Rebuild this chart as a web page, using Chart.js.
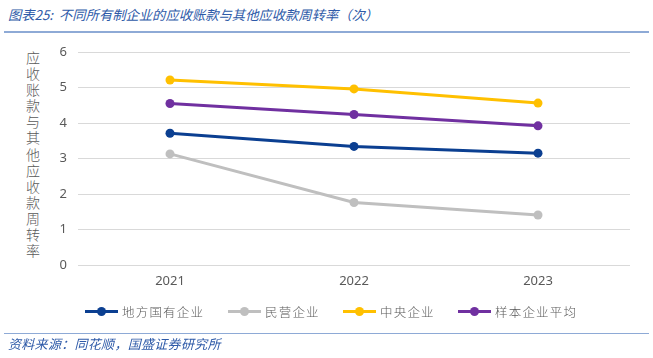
<!DOCTYPE html>
<html><head><meta charset="utf-8">
<script src="https://cdn.jsdelivr.net/npm/chart.js@4"></script>
<style>
html,body{margin:0;padding:0;background:#fff;width:653px;height:358px;overflow:hidden;position:relative;font-family:"Noto Sans CJK SC","Noto Sans",sans-serif;}
#title{position:absolute;left:8px;top:5px;font-size:13.3px;color:#2E5AA8;font-style:italic;white-space:nowrap;}
#tline{position:absolute;left:4px;top:31px;width:645px;height:2px;background:#8EAAD6;}
#bline{position:absolute;left:4px;top:333px;width:645px;height:1px;background:#8EAAD6;}
#src{position:absolute;left:8px;top:334px;font-size:13px;color:#2E5AA8;font-style:italic;white-space:nowrap;letter-spacing:0.3px;}
#ytitle{position:absolute;left:25px;top:49px;width:16px;font-size:14px;line-height:16.1px;color:#595959;font-weight:300;word-break:break-all;text-align:center;}
#c{position:absolute;left:0;top:0;}
.lg{position:absolute;top:302px;height:18px;display:flex;align-items:center;white-space:nowrap;}
.ic{position:relative;width:33px;height:18px;margin-right:4px;}
.ic .ln{position:absolute;left:0;top:7.5px;width:33px;height:3px;}
.ic .dt{position:absolute;left:12px;top:4.5px;width:9px;height:9px;border-radius:50%;}
.tx{font-size:12.5px;letter-spacing:1.2px;color:#595959;font-weight:300;}
</style></head><body>
<div id="title">图表25:&nbsp; 不同所有制企业的应收账款与其他应收款周转率（次）</div>
<div id="tline"></div>
<div id="ytitle">应收账款与其他应收款周转率</div>
<canvas id="c" width="653" height="358"></canvas>
<div id="legend"></div>
<div id="bline"></div>
<div id="src">资料来源：同花顺，国盛证券研究所</div>
<script>
const categories = ["2021","2022","2023"];
const seriesNames = ["地方国有企业","民营企业","中央企业","样本企业平均"];
const localSOE = [3.71, 3.34, 3.15];
const privateEnt = [3.13, 1.76, 1.41];
const centralSOE = [5.21, 4.96, 4.56];
const sampleAvg = [4.55, 4.24, 3.92];
const colors = ["#0B3F91","#BFBFBF","#FFC000","#7030A0"];
const yTicks = [0,1,2,3,4,5,6];
const legendLefts = [85,228,343,458];

const dataArr=[localSOE,privateEnt,centralSOE,sampleAvg];
const lgEl=document.getElementById('legend');
seriesNames.forEach((n,i)=>{
  const d=document.createElement('div');d.className='lg';d.style.left=legendLefts[i]+'px';
  d.innerHTML='<div class="ic"><div class="ln" style="background:'+colors[i]+'"></div><div class="dt" style="background:'+colors[i]+'"></div></div><span class="tx"></span>';
  d.querySelector('.tx').textContent=n;
  lgEl.appendChild(d);
});
new Chart(document.getElementById('c'),{
  type:'line',
  data:{labels:categories,datasets:dataArr.map((d,i)=>({
    label:seriesNames[i],data:d,borderColor:colors[i],backgroundColor:colors[i],
    borderWidth:3,pointRadius:4.5,pointHoverRadius:4.5,pointBackgroundColor:colors[i],pointBorderWidth:0,tension:0
  }))},
  options:{
    responsive:false,animation:false,
    layout:{padding:{top:52,right:23,left:0,bottom:73}},
    plugins:{tooltip:{enabled:false},legend:{display:false}},
    scales:{
      x:{offset:true,grid:{display:false},border:{display:false},
        afterFit:(s)=>{s.height=20;},
        ticks:{color:'#595959',font:{size:13,family:'"Noto Sans"'},padding:0}},
      y:{min:0,max:6,afterBuildTicks:(s)=>{s.ticks=yTicks.map(v=>({value:v}));},
        afterFit:(s)=>{s.width=78;},
        grid:{color:'#D9D9D9',drawTicks:false,lineWidth:1},border:{display:false},
        ticks:{color:'#595959',font:{size:13,family:'"Noto Sans"'},padding:11}}
    }
  }
});
</script>
</body></html>
